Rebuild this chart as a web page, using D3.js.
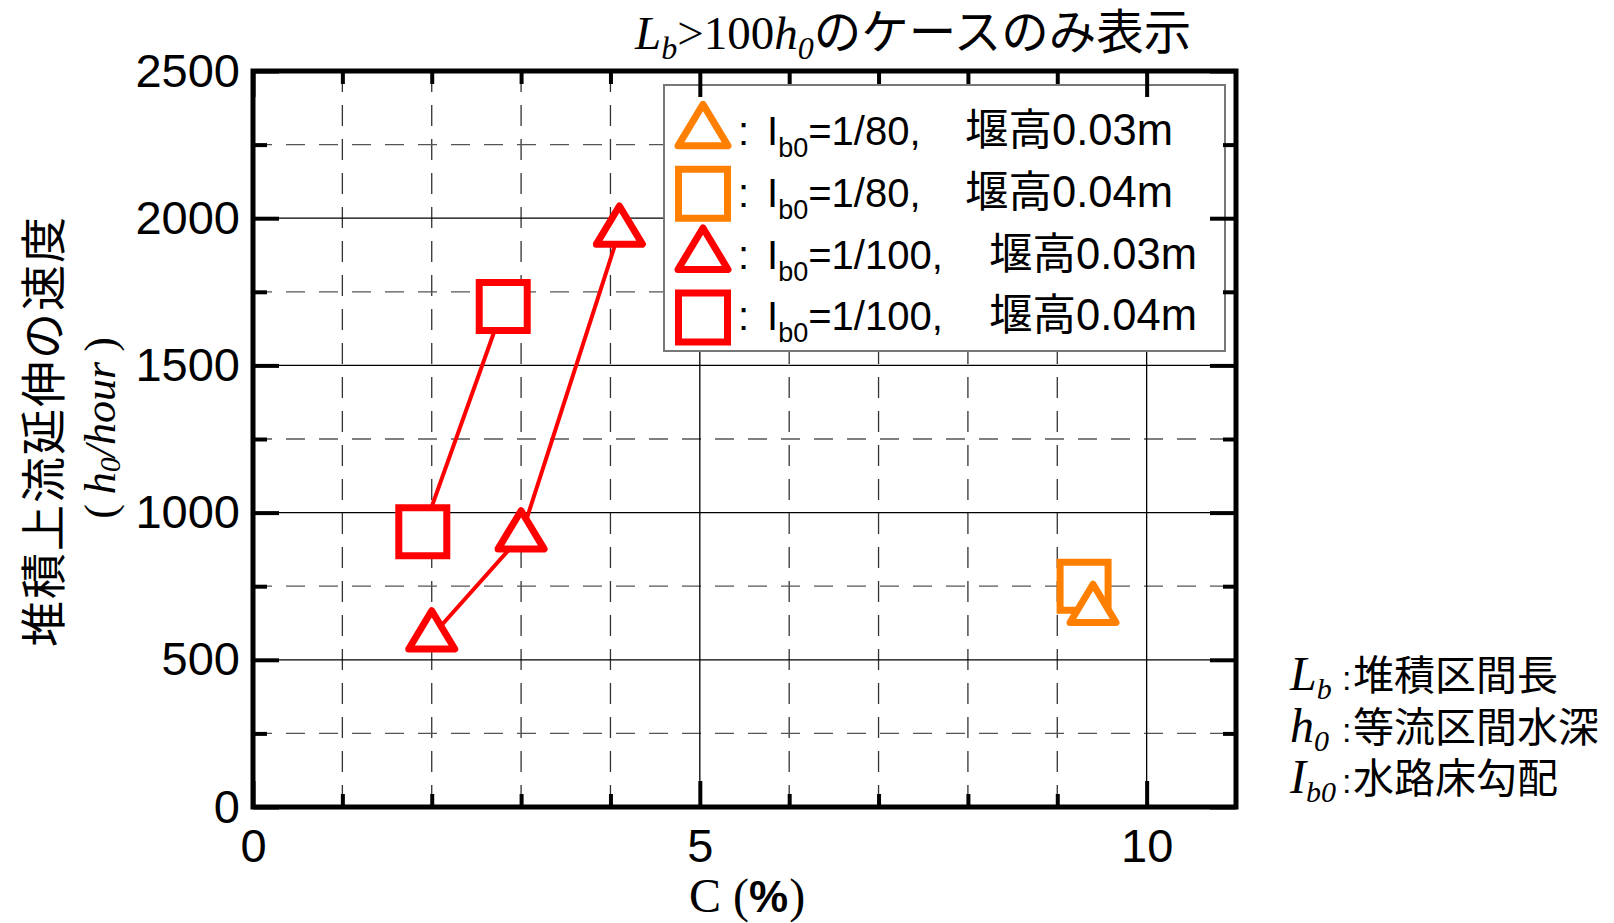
<!DOCTYPE html>
<html>
<head>
<meta charset="utf-8">
<script src="https://cdn.jsdelivr.net/npm/d3@7/dist/d3.min.js"></script>
<style>
	body { margin: 0; background: #fff; }
	svg { display: block; }
	.sans { font-family: "Liberation Sans", Arial, "Noto Sans CJK JP", sans-serif; }
	.serif { font-family: "Liberation Serif", "Times New Roman", serif; }
	.jp { font-family: "Noto Sans CJK JP", sans-serif; }
</style>
</head>
<body>
<svg id="chart" width="1614" height="923"></svg>
<script>
// axis ticks
const xMajorTicks = [0, 5, 10];
const xMinorTicks = [1, 2, 3, 4, 6, 7, 8, 9];
const yMajorTicks = [0, 500, 1000, 1500, 2000, 2500];
const yMinorTicks = [250, 750, 1250, 1750, 2250];

// series: C (%) and speed (h0/hour)
const slope80Weir003C = [9.4];
const slope80Weir003V = [670];
const slope80Weir004C = [9.3];
const slope80Weir004V = [750];
const slope100Weir003C = [2.0, 3.0, 4.1];
const slope100Weir003V = [580, 920, 1955];
const slope100Weir004C = [1.9, 2.8];
const slope100Weir004V = [935, 1700];

// legend texts
const legendSlopes = ["1/80", "1/80", "1/100", "1/100"];
const legendWeirs = ["0.03m", "0.04m", "0.03m", "0.04m"];

const ORANGE = "#ff8000";
const RED = "#ff0000";

const margin = { left: 253, right: 1236, top: 71, bottom: 807 };

const svg = d3.select("#chart");

const x = d3.scaleLinear().domain([0, 11]).range([margin.left, margin.right]);
const y = d3.scaleLinear().domain([0, 2500]).range([margin.bottom, margin.top]);

const zip = (cs, vs) => cs.map((c, i) => [c, vs[i]]);

// triangles are drawn over squares
const series = [
	{ points: zip(slope80Weir004C, slope80Weir004V), shape: "square", color: ORANGE },
	{ points: zip(slope80Weir003C, slope80Weir003V), shape: "triangle", color: ORANGE },
	{ points: zip(slope100Weir004C, slope100Weir004V), shape: "square", color: RED },
	{ points: zip(slope100Weir003C, slope100Weir003V), shape: "triangle", color: RED }
];
const legendShapes = ["triangle", "square", "triangle", "square"];
const legendColors = [ORANGE, ORANGE, RED, RED];

function markerPath(shape, size) {
	if (shape === "square") {
		const s = size;
		return `M${-s / 2},${-s / 2}h${s}v${s}h${-s}Z`;
	}
	const w = size, h = size * 0.83;
	return `M0,${-2 * h / 3}L${w / 2},${h / 3}L${-w / 2},${h / 3}Z`;
}

// ---- grid ----
const grid = svg.append("g").attr("class", "grid");

grid.selectAll(".vminor")
	.data(xMinorTicks)
	.join("line")
	.attr("x1", d => x(d)).attr("x2", d => x(d))
	.attr("y1", margin.top).attr("y2", margin.bottom)
	.attr("stroke", "#333")
	.attr("stroke-width", 1.3)
	.attr("stroke-dasharray", "21,13");

grid.selectAll(".hminor")
	.data(yMinorTicks)
	.join("line")
	.attr("x1", margin.left).attr("x2", margin.right)
	.attr("y1", d => y(d)).attr("y2", d => y(d))
	.attr("stroke", "#555")
	.attr("stroke-width", 1.3)
	.attr("stroke-dasharray", "19,14");

grid.selectAll(".vmajor")
	.data(xMajorTicks.slice(1))
	.join("line")
	.attr("x1", d => x(d)).attr("x2", d => x(d))
	.attr("y1", margin.top).attr("y2", margin.bottom)
	.attr("stroke", "#000")
	.attr("stroke-width", 1.3);

grid.selectAll(".hmajor")
	.data(yMajorTicks.slice(1, -1))
	.join("line")
	.attr("x1", margin.left).attr("x2", margin.right)
	.attr("y1", d => y(d)).attr("y2", d => y(d))
	.attr("stroke", "#000")
	.attr("stroke-width", 1.3);

// ---- legend box (opaque, covers grid) ----
const legend = svg.append("g").attr("class", "legend");
legend.append("rect")
	.attr("x", 664).attr("y", 85)
	.attr("width", 561).attr("height", 266)
	.attr("fill", "white")
	.attr("stroke", "#777")
	.attr("stroke-width", 2);

const rowY = i => 132 + i * 61.8;

legendShapes.forEach((shape, i) => {
	legend.append("path")
		.attr("d", markerPath(shape, shape === "square" ? 49 : 50))
		.attr("transform", `translate(703,${rowY(i)})`)
		.attr("fill", "white")
		.attr("stroke", legendColors[i])
		.attr("stroke-width", 7)
		.attr("stroke-linejoin", shape === "square" ? "miter" : "round");

	const t = legend.append("text")
		.attr("class", "sans")
		.attr("y", rowY(i) + 13)
		.attr("font-size", 40)
		.attr("fill", "#000");
	t.append("tspan").attr("x", 738).text(":");
	t.append("tspan").attr("x", 767).text("I");
	t.append("tspan").attr("font-size", 27).attr("dy", 12).text("b0");
	t.append("tspan").attr("dy", -12).text(`=${legendSlopes[i]},`);
	t.append("tspan")
		.attr("x", legendSlopes[i].length > 4 ? 989 : 965)
		.attr("font-size", 43.5)
		.text(`堰高${legendWeirs[i]}`);
});

// ---- data ----
const plot = svg.append("g").attr("class", "plot");
const line = d3.line().x(d => x(d[0])).y(d => y(d[1]));

plot.selectAll(".series-line")
	.data(series.filter(s => s.points.length > 1))
	.join("path")
	.attr("d", s => line(s.points))
	.attr("fill", "none")
	.attr("stroke", s => s.color)
	.attr("stroke-width", 4);

series.forEach(s => {
	plot.selectAll(null)
		.data(s.points)
		.join("path")
		.attr("d", markerPath(s.shape, s.shape === "square" ? 48 : 46))
		.attr("transform", d => `translate(${x(d[0])},${y(d[1])})`)
		.attr("fill", "white")
		.attr("stroke", s.color)
		.attr("stroke-width", 7)
		.attr("stroke-linejoin", s.shape === "square" ? "miter" : "round");
});

// ---- axes (inward ticks on all sides) ----
function styleAxis(g) {
	g.select(".domain").remove();
	g.selectAll(".tick line").attr("stroke", "#000").attr("stroke-width", 4);
	g.attr("font-size", null).attr("font-family", null);
	g.selectAll("text").attr("class", "sans").attr("font-size", 47).attr("fill", "#000");
}

svg.append("g")
	.attr("transform", `translate(0,${margin.bottom})`)
	.call(d3.axisBottom(x).tickValues(xMinorTicks).tickSize(-13).tickFormat(""))
	.call(styleAxis);
svg.append("g")
	.attr("transform", `translate(0,${margin.bottom})`)
	.call(d3.axisBottom(x).tickValues(xMajorTicks).tickSize(-26).tickPadding(22).tickFormat(d3.format("d")))
	.call(styleAxis);
svg.append("g")
	.attr("transform", `translate(0,${margin.top})`)
	.call(d3.axisTop(x).tickValues(xMinorTicks).tickSize(-13).tickFormat(""))
	.call(styleAxis);
svg.append("g")
	.attr("transform", `translate(0,${margin.top})`)
	.call(d3.axisTop(x).tickValues(xMajorTicks).tickSize(-26).tickFormat(""))
	.call(styleAxis);

svg.append("g")
	.attr("transform", `translate(${margin.left},0)`)
	.call(d3.axisLeft(y).tickValues(yMinorTicks).tickSize(-14).tickFormat(""))
	.call(styleAxis);
svg.append("g")
	.attr("transform", `translate(${margin.left},0)`)
	.call(d3.axisLeft(y).tickValues(yMajorTicks).tickSize(-26).tickPadding(13).tickFormat(d3.format("d")))
	.call(styleAxis);
svg.append("g")
	.attr("transform", `translate(${margin.right},0)`)
	.call(d3.axisRight(y).tickValues(yMinorTicks).tickSize(-13).tickFormat(""))
	.call(styleAxis);
svg.append("g")
	.attr("transform", `translate(${margin.right},0)`)
	.call(d3.axisRight(y).tickValues(yMajorTicks).tickSize(-26).tickFormat(""))
	.call(styleAxis);

// frame
svg.append("rect")
	.attr("x", margin.left).attr("y", margin.top)
	.attr("width", margin.right - margin.left)
	.attr("height", margin.bottom - margin.top)
	.attr("fill", "none")
	.attr("stroke", "#000")
	.attr("stroke-width", 5);

// ---- title ----
const title = svg.append("text")
	.attr("x", 635).attr("y", 49)
	.attr("font-size", 47)
	.attr("fill", "#000");
title.append("tspan").attr("class", "serif").attr("font-style", "italic").text("L");
title.append("tspan").attr("class", "serif").attr("font-style", "italic").attr("font-size", 32).attr("dy", 10).text("b");
title.append("tspan").attr("class", "serif").attr("dy", -10).text(">100");
title.append("tspan").attr("class", "serif").attr("font-style", "italic").text("h");
title.append("tspan").attr("class", "serif").attr("font-style", "italic").attr("font-size", 32).attr("dy", 10).text("0");
title.append("tspan").attr("class", "jp").attr("font-size", 47.5).attr("dy", -10).text("のケースのみ表示");

// ---- axis titles ----
const xTitle = svg.append("text")
	.attr("x", 689).attr("y", 912)
	.attr("font-size", 48)
	.attr("fill", "#000");
xTitle.append("tspan").attr("class", "serif").text("C (");
xTitle.append("tspan").attr("class", "sans").attr("font-weight", "bold").attr("font-size", 44).text("%");
xTitle.append("tspan").attr("class", "serif").attr("dx", 1).text(")");

svg.append("text")
	.attr("class", "jp")
	.attr("transform", "translate(40,431) rotate(-90)")
	.attr("text-anchor", "middle")
	.attr("dominant-baseline", "central")
	.attr("font-size", 46)
	.attr("letter-spacing", 2)
	.attr("fill", "#000")
	.text("堆積上流延伸の速度");

const yUnit = svg.append("text")
	.attr("class", "serif")
	.attr("transform", "translate(100,428) rotate(-90)")
	.attr("text-anchor", "middle")
	.attr("dominant-baseline", "central")
	.attr("font-size", 44)
	.attr("fill", "#000");
yUnit.append("tspan").text("(");
yUnit.append("tspan").attr("font-style", "italic").attr("dx", 10).text("h");
yUnit.append("tspan").attr("font-style", "italic").attr("font-size", 30).attr("dy", 9).text("0");
yUnit.append("tspan").attr("font-style", "italic").attr("dy", -9).text("/hour");
yUnit.append("tspan").attr("dx", 10).text(")");

// ---- symbol notes ----
const noteSymbols = ["L", "h", "I"];
const noteSubs = ["b", "0", "b0"];
const noteTexts = ["堆積区間長", "等流区間水深", "水路床勾配"];
noteSymbols.forEach((sym, i) => {
	const t = svg.append("text")
		.attr("x", 1290).attr("y", 690 + i * 51.5)
		.attr("fill", "#000");
	t.append("tspan").attr("class", "serif").attr("font-style", "italic").attr("font-size", 48).text(sym);
	t.append("tspan").attr("class", "serif").attr("font-style", "italic").attr("font-size", 30).attr("dy", 9).text(noteSubs[i]);
	t.append("tspan").attr("class", "sans").attr("font-size", 34).attr("x", 1342).attr("dy", -9).text(":");
	t.append("tspan").attr("class", "jp").attr("font-size", 41).attr("x", 1353).text(noteTexts[i]);
});
</script>
</body>
</html>
